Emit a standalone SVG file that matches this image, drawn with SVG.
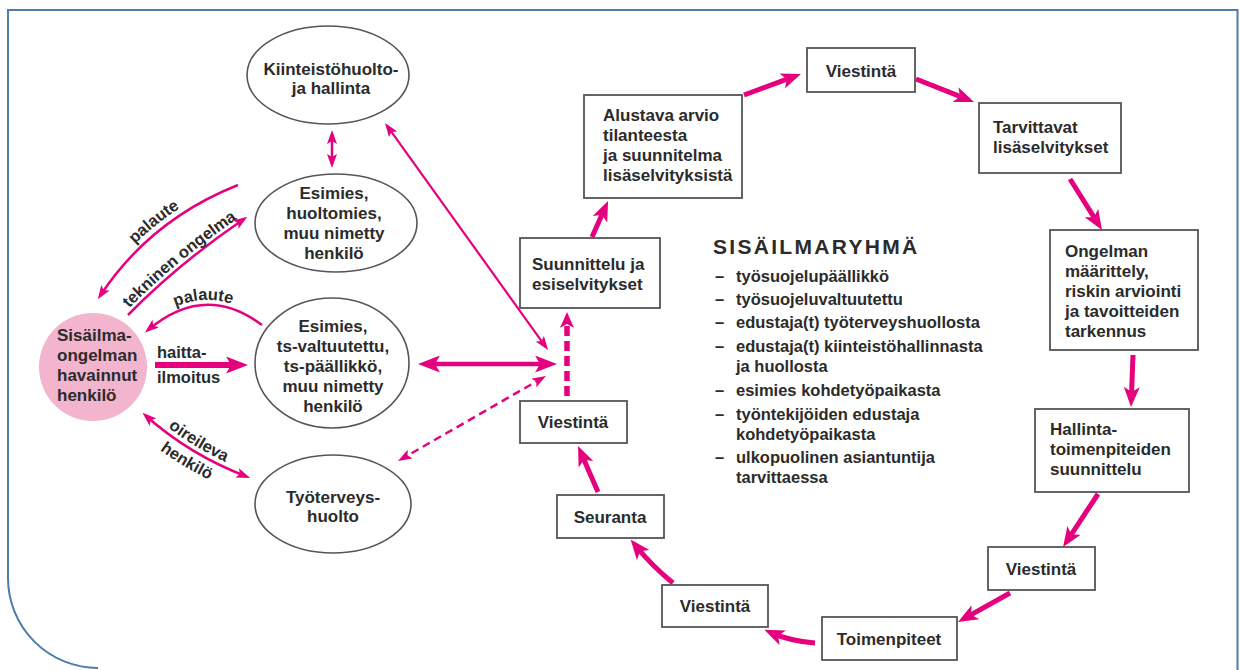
<svg xmlns="http://www.w3.org/2000/svg" width="1240" height="670" viewBox="0 0 1240 670">
<defs>
<style>
.t{font-family:"Liberation Sans",Arial,sans-serif;font-weight:bold;font-size:17px;fill:#2b2b2b}
.m{text-anchor:middle}
.lb{font-size:16.5px}
.ls{font-size:16.5px}
.hd{font-size:21px;letter-spacing:2.3px}
.box{fill:#fff;stroke:#555;stroke-width:1.8}
.ell{fill:#fff;stroke:#555;stroke-width:1.6}
.a{fill:none;stroke:#e5007e}
.k{stroke-width:5}
.n{stroke-width:2.2}
.ac{fill:#e5007e}
</style>
<marker id="A" viewBox="0 0 20 16" refX="13" refY="8" markerWidth="20" markerHeight="16" markerUnits="userSpaceOnUse" orient="auto-start-reverse"><path class="ac" d="M0,0 L20,8 L0,16 L5,8 Z"/></marker>
<marker id="H" viewBox="0 0 22 17" refX="14" refY="8.5" markerWidth="22" markerHeight="17" markerUnits="userSpaceOnUse" orient="auto-start-reverse"><path class="ac" d="M0,0 L22,8.5 L0,17 L5,8.5 Z"/></marker>
<marker id="S" viewBox="0 0 14 10" refX="10" refY="5" markerWidth="14" markerHeight="10" markerUnits="userSpaceOnUse" orient="auto-start-reverse"><path class="ac" d="M0,0 L14,5 L0,10 L3,5 Z"/></marker>
<marker id="D" viewBox="0 0 16 14" refX="9" refY="7" markerWidth="16" markerHeight="14" markerUnits="userSpaceOnUse" orient="auto-start-reverse"><path class="ac" d="M0,0 L16,7 L0,14 L4,7 Z"/></marker>
<path id="tp1" d="M96.2,291.3 Q146.2,215.3 234.2,180.3"/>
<path id="tp2" d="M125.5,311.9 Q175.5,260.9 241.5,215.9"/>
<path id="tp3" d="M152,320 Q205,282 256,316"/>
<path id="tp4" d="M148.1,411.2 Q192.6,450.7 249.1,472.2"/>
<path id="tp5" d="M136.2,430.9 Q180.7,470.4 237.2,491.9"/>
</defs>
<rect width="1240" height="670" fill="#fff"/>
<path id="frame" d="M8,578 V10 H1237.5 V670 M8,578 A90,90 0 0 0 98,668" fill="none" stroke="#4d7bab" stroke-width="2"/>

<g id="connectors">
  <path class="a k" d="M592,237 L605.2,207.4" marker-end="url(#A)"/>
  <path class="a k" d="M744,95 L794.4,76.4" marker-end="url(#A)"/>
  <path class="a k" d="M916,79 L967.5,99.4" marker-end="url(#A)"/>
  <path class="a k" d="M1070,179 L1098.3,224.1" marker-end="url(#A)"/>
  <path class="a k" d="M1133,355 L1131.3,400" marker-end="url(#A)"/>
  <path class="a k" d="M1098,494 L1066.9,541.2" marker-end="url(#A)"/>
  <path class="a k" d="M1010,593 L964.1,618.6" marker-end="url(#A)"/>
  <path class="a k" d="M815,643 Q790,641 770.8,632.6" marker-end="url(#A)"/>
  <path class="a k" d="M673,583 Q652,566 635,545" marker-end="url(#A)"/>
  <path class="a k" d="M598,492 L580.8,452.4" marker-end="url(#A)"/>
  <path class="a" stroke-width="5.5" stroke-dasharray="10 5" d="M567,396 L567,319" marker-end="url(#D)"/>
  <path class="a" stroke-width="6" d="M155,365 L240,365" marker-end="url(#H)"/>
  <path class="a" stroke-width="4.5" d="M426,364 L549,364" marker-start="url(#H)" marker-end="url(#H)"/>
  <path class="a n" d="M387.3,126.2 L545.7,346.8" marker-start="url(#S)" marker-end="url(#S)"/>
  <path class="a" stroke-width="2.5" stroke-dasharray="8 5" d="M542.5,378 L401.5,459" marker-start="url(#S)" marker-end="url(#S)"/>
  <path class="a" stroke-width="2.5" d="M332,134 L332,164" marker-start="url(#S)" marker-end="url(#S)"/>
  <path class="a" stroke-width="2.5" d="M238,185 Q150,220 100,296" marker-end="url(#S)"/>
  <path class="a" stroke-width="2.5" d="M128,315 Q178,264 244,219" marker-end="url(#S)"/>
  <path class="a" stroke-width="2.5" d="M262,325 Q205,282 148,330" marker-end="url(#S)"/>
  <path class="a" stroke-width="2.5" d="M145.5,415.5 Q190,455 246.5,476.5" marker-start="url(#S)" marker-end="url(#S)"/>
  <text class="t lb"><textPath href="#tp1" startOffset="50%" text-anchor="middle">palaute</textPath></text>
  <text class="t lb"><textPath href="#tp2" startOffset="50%" text-anchor="middle">tekninen ongelma</textPath></text>
  <text class="t lb"><textPath href="#tp3" startOffset="50%" text-anchor="middle">palaute</textPath></text>
  <text class="t lb"><textPath href="#tp4" startOffset="50%" text-anchor="middle">oireileva</textPath></text>
  <text class="t lb"><textPath href="#tp5" startOffset="50%" text-anchor="middle">henkilö</textPath></text>
  <text class="t lb" x="157" y="358">haitta-</text>
  <text class="t lb" x="157" y="383">ilmoitus</text>
</g>

<g id="person">
  <circle cx="93" cy="367" r="54" fill="#f3b4cd"/>
  <text class="t" x="57" y="341">Sisäilma-</text>
  <text class="t" x="57" y="361">ongelman</text>
  <text class="t" x="57" y="381">havainnut</text>
  <text class="t" x="57" y="401">henkilö</text>
</g>
<g id="kiinteisto">
  <ellipse class="ell" cx="328" cy="75" rx="81" ry="49"/>
  <text class="t m" x="331" y="75">Kiinteistöhuolto-</text>
  <text class="t m" x="331" y="94">ja hallinta</text>
</g>
<g id="esimies1">
  <ellipse class="ell" cx="336" cy="223" rx="81" ry="49"/>
  <text class="t m" x="334" y="199">Esimies,</text>
  <text class="t m" x="334" y="219">huoltomies,</text>
  <text class="t m" x="334" y="239">muu nimetty</text>
  <text class="t m" x="334" y="259">henkilö</text>
</g>
<g id="esimies2">
  <ellipse class="ell" cx="332" cy="363" rx="77" ry="65"/>
  <text class="t m" x="333" y="332">Esimies,</text>
  <text class="t m" x="333" y="352">ts-valtuutettu,</text>
  <text class="t m" x="333" y="372">ts-päällikkö,</text>
  <text class="t m" x="333" y="392">muu nimetty</text>
  <text class="t m" x="333" y="412">henkilö</text>
</g>
<g id="tyoterveys">
  <ellipse class="ell" cx="333" cy="504" rx="78" ry="49"/>
  <text class="t m" x="333" y="503">Työterveys-</text>
  <text class="t m" x="333" y="522">huolto</text>
</g>

<g id="suunnittelu">
  <rect class="box" x="520" y="238" width="140" height="70"/>
  <text class="t" x="532" y="270">Suunnittelu ja</text>
  <text class="t" x="532" y="290">esiselvitykset</text>
</g>
<g id="alustava">
  <rect class="box" x="584" y="95" width="158" height="103"/>
  <text class="t" x="603" y="121">Alustava arvio</text>
  <text class="t" x="603" y="141">tilanteesta</text>
  <text class="t" x="603" y="161">ja suunnitelma</text>
  <text class="t" x="603" y="181">lisäselvityksistä</text>
</g>
<g id="viestinta1">
  <rect class="box" x="807" y="48" width="108" height="44"/>
  <text class="t m" x="861" y="77">Viestintä</text>
</g>
<g id="tarvittavat">
  <rect class="box" x="979" y="103" width="142" height="70"/>
  <text class="t" x="993" y="133">Tarvittavat</text>
  <text class="t" x="993" y="153">lisäselvitykset</text>
</g>
<g id="ongelman">
  <rect class="box" x="1050" y="230" width="148" height="120"/>
  <text class="t" x="1065" y="257">Ongelman</text>
  <text class="t" x="1065" y="277">määrittely,</text>
  <text class="t" x="1065" y="297">riskin arviointi</text>
  <text class="t" x="1065" y="317">ja tavoitteiden</text>
  <text class="t" x="1065" y="337">tarkennus</text>
</g>
<g id="hallinta">
  <rect class="box" x="1035" y="409" width="154" height="83"/>
  <text class="t" x="1050" y="435">Hallinta-</text>
  <text class="t" x="1050" y="455">toimenpiteiden</text>
  <text class="t" x="1050" y="475">suunnittelu</text>
</g>
<g id="viestinta2">
  <rect class="box" x="988" y="547" width="107" height="43"/>
  <text class="t m" x="1041" y="575">Viestintä</text>
</g>
<g id="toimenpiteet">
  <rect class="box" x="822" y="617" width="135" height="43"/>
  <text class="t m" x="889" y="645">Toimenpiteet</text>
</g>
<g id="viestinta3">
  <rect class="box" x="662" y="585" width="106" height="42"/>
  <text class="t m" x="715" y="612">Viestintä</text>
</g>
<g id="seuranta">
  <rect class="box" x="557" y="495" width="107" height="43"/>
  <text class="t m" x="610" y="523">Seuranta</text>
</g>
<g id="viestinta4">
  <rect class="box" x="520" y="401" width="107" height="42"/>
  <text class="t m" x="573" y="428">Viestintä</text>
</g>

<g id="sisailmaryhma">
  <text class="t hd" x="713" y="254">SISÄILMARYHMÄ</text>
  <g class="t ls">
    <text x="715" y="282">–</text><text x="736" y="282">työsuojelupäällikkö</text>
    <text x="715" y="305">–</text><text x="736" y="305">työsuojeluvaltuutettu</text>
    <text x="715" y="328">–</text><text x="736" y="328">edustaja(t) työterveyshuollosta</text>
    <text x="715" y="352">–</text><text x="736" y="352">edustaja(t) kiinteistöhallinnasta</text>
    <text x="736" y="372">ja huollosta</text>
    <text x="715" y="396">–</text><text x="736" y="396">esimies kohdetyöpaikasta</text>
    <text x="715" y="420">–</text><text x="736" y="420">työntekijöiden edustaja</text>
    <text x="736" y="440">kohdetyöpaikasta</text>
    <text x="715" y="463">–</text><text x="736" y="463">ulkopuolinen asiantuntija</text>
    <text x="736" y="483">tarvittaessa</text>
  </g>
</g>
</svg>
